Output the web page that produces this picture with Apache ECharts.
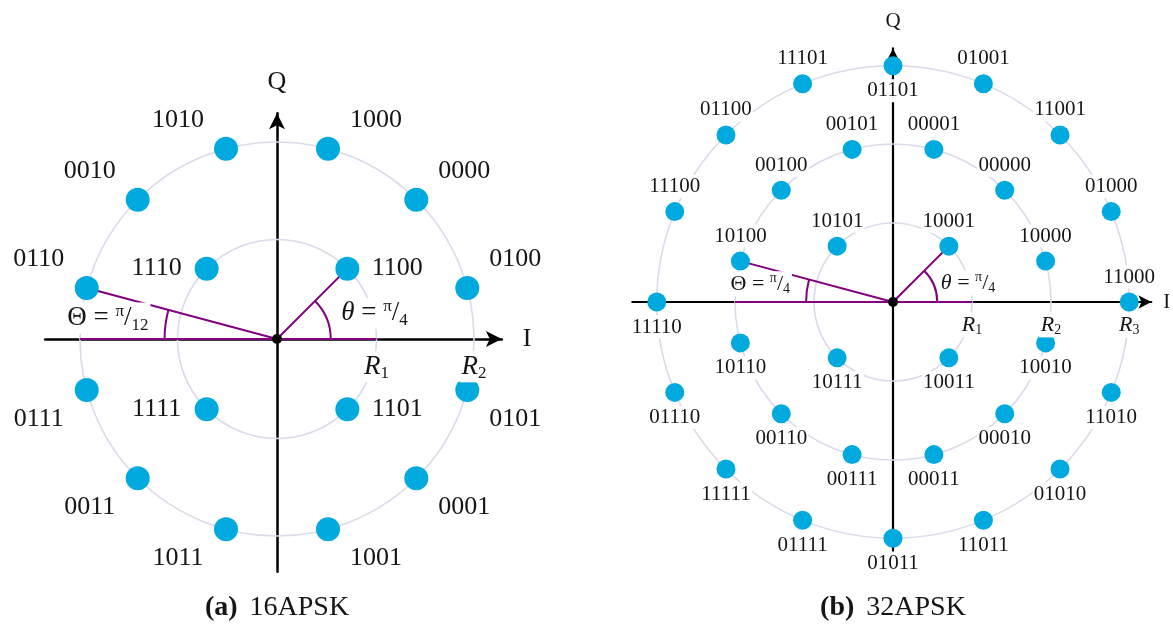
<!DOCTYPE html>
<html><head><meta charset="utf-8">
<script src="https://cdn.jsdelivr.net/npm/echarts@6/dist/echarts.min.js"></script>
<style>html,body{margin:0;background:#fff}#c{width:1173px;height:626px}</style>
</head><body><div id="c"></div>
<script>
// ---------- data ----------
const apsk16Radii = [1, 1.98];
const apsk16InnerAngles = [45, 135, 225, 315];
const apsk16InnerLabels = ['1100', '1110', '1111', '1101'];
const apsk16OuterAngles = [15, 45, 75, 105, 135, 165, 195, 225, 255, 285, 315, 345];
const apsk16OuterLabels = ['0100', '0000', '1000', '1010', '0010', '0110', '0111', '0011', '1011', '1001', '0001', '0101'];

const apsk32Radii = [1, 2, 2.99];
const apsk32InnerAngles = [45, 135, 225, 315];
const apsk32InnerLabels = ['10001', '10101', '10111', '10011'];
const apsk32MiddleAngles = [15, 45, 75, 105, 135, 165, 195, 225, 255, 285, 315, 345];
const apsk32MiddleLabels = ['10000', '00000', '00001', '00101', '00100', '10100', '10110', '00110', '00111', '00011', '00010', '10010'];
const apsk32OuterAngles = [0, 22.5, 45, 67.5, 90, 112.5, 135, 157.5, 180, 202.5, 225, 247.5, 270, 292.5, 315, 337.5];
const apsk32OuterLabels = ['11000', '01000', '11001', '01001', '01101', '11101', '01100', '11100', '11110', '01110', '11111', '01111', '01011', '11011', '01010', '11010'];

const captions = ['16APSK', '32APSK'];
const captionTags = ['(a)', '(b)'];
const angleTexts16 = ['θ', 'π', '4', 'Θ', 'π', '12'];
const angleTexts32 = ['θ', 'π', '4', 'Θ', 'π', '4'];

// ---------- styling / layout ----------
const F = 'Liberation Serif';
const INK = '#161616';
const DOT = '#00a9de';
const RING = '#dadaea';
const PURP = '#800080';
const layouts = [
  {cx: 277, cy: 339, s: 99.5, xmin: -2.33, xmax: 2.26, ymin: -2.34, ymax: 2.27, fs: 26, mfs: 27, dot: 24, aw: 2.5, arrow: [12, 16], xGap: 21, yGap: 18, dist: 0},
  {cx: 893, cy: 302, s: 79, xmin: -3.30, xmax: 3.27, ymin: -3.15, ymax: 3.21, fs: 21, mfs: 22, dot: 19, aw: 2.2, arrow: [10, 13], xGap: 12, yGap: 16, dist: 4}
];
const rad = d => d * Math.PI / 180;
const pt = (r, a) => [r * Math.cos(rad(a)), r * Math.sin(rad(a))];

const grids = [], xAxes = [], yAxes = [], series = [];
layouts.forEach((L, gi) => {
  grids.push({left: L.cx + L.xmin * L.s, width: (L.xmax - L.xmin) * L.s,
    top: L.cy - L.ymax * L.s, height: (L.ymax - L.ymin) * L.s,
    containLabel: false, outerBoundsMode: 'none', show: false});
  const axCommon = {
    type: 'value', gridIndex: gi,
    axisLine: {onZero: true, symbol: ['none', 'arrow'], symbolSize: L.arrow,
      lineStyle: {color: '#000', width: L.aw}},
    axisTick: {show: false}, axisLabel: {show: false}, splitLine: {show: false},
    nameTextStyle: {fontFamily: F, fontSize: L.fs, color: INK}
  };
  xAxes.push(Object.assign({}, axCommon, {min: L.xmin, max: L.xmax, name: 'I', nameGap: L.xGap}));
  yAxes.push(Object.assign({}, axCommon, {min: L.ymin, max: L.ymax, name: 'Q', nameGap: L.yGap}));
});

function ringSeries(gi, radii) {
  return {type: 'custom', xAxisIndex: gi, yAxisIndex: gi, silent: true, z: 3,
    data: radii.map(r => [r, 0]), encode: {x: 0, y: 1},
    renderItem: (p, api) => {
      const c = api.coord([0, 0]), e = api.coord([api.value(0), 0]);
      return {type: 'circle', shape: {cx: c[0], cy: c[1], r: e[0] - c[0]},
        style: {fill: 'none', stroke: RING, lineWidth: 1.6}};
    }};
}
function arcSeries(gi, arcs) {
  return {type: 'custom', xAxisIndex: gi, yAxisIndex: gi, silent: true, z: 4,
    data: arcs, encode: {x: 0, y: 1},
    renderItem: (p, api) => {
      const c = api.coord([0, 0]), e = api.coord([api.value(0), 0]);
      return {type: 'arc', shape: {cx: c[0], cy: c[1], r: e[0] - c[0],
        startAngle: -rad(api.value(2)), endAngle: -rad(api.value(1)), clockwise: true},
        style: {fill: 'none', stroke: PURP, lineWidth: 2}};
    }};
}
function lineSeries(gi, pts) {
  return {type: 'line', xAxisIndex: gi, yAxisIndex: gi, data: pts, showSymbol: false,
    silent: true, z: 4, lineStyle: {color: PURP, width: 2, opacity: 1}, animation: false};
}
function mathRich(fs) {
  const base = {fontFamily: F, color: INK, textBorderWidth: 0, textShadowBlur: 0};
  const small = Math.round(fs * 0.64);
  return {
    it: Object.assign({}, base, {fontStyle: 'italic', fontSize: fs}),
    n: Object.assign({}, base, {fontSize: fs}),
    sup: Object.assign({}, base, {fontSize: small, verticalAlign: 'top'}),
    sub: Object.assign({}, base, {fontSize: small, verticalAlign: 'bottom'})
  };
}
function textSeries(gi, items, fs) {
  return {type: 'scatter', xAxisIndex: gi, yAxisIndex: gi, symbolSize: 0, z: 6, silent: true,
    itemStyle: {color: '#fff', opacity: 1},
    data: items.map(it => ({value: it.v, label: {formatter: it.t}})),
    label: {show: true, position: 'inside', backgroundColor: '#fff', padding: [0, 2],
      color: INK, opacity: 1, textBorderWidth: 0, fontFamily: F, fontSize: fs,
      rich: mathRich(fs), lineHeight: Math.round(fs * 1.15)}};
}
function dotSeries(gi, pts, L, labelFn) {
  return {type: 'scatter', xAxisIndex: gi, yAxisIndex: gi, z: 5, silent: true,
    symbolSize: L.dot, itemStyle: {color: DOT, opacity: 1},
    data: pts.map(p => ({value: p.v, name: p.n, label: labelFn(p)})),
    label: {show: true, formatter: '{b}', fontFamily: F, fontSize: L.fs, color: INK,
      textBorderWidth: 0, backgroundColor: '#fff', padding: [1, 1]}};
}
function originSeries(gi) {
  return {type: 'scatter', xAxisIndex: gi, yAxisIndex: gi, z: 7, silent: true,
    symbolSize: 10, itemStyle: {color: '#000', opacity: 1}, data: [[0, 0]]};
}

// ---- 16APSK ----
{
  const L = layouts[0];
  const pts = [];
  apsk16InnerAngles.forEach((a, i) => pts.push({v: pt(apsk16Radii[0], a), n: apsk16InnerLabels[i], ring: 0}));
  apsk16OuterAngles.forEach((a, i) => pts.push({v: pt(apsk16Radii[1], a), n: apsk16OuterLabels[i], ring: 1}));
  series.push(ringSeries(0, apsk16Radii));
  series.push(lineSeries(0, [[-apsk16Radii[1], 0], [apsk16Radii[0], 0]]));
  series.push(lineSeries(0, [pt(apsk16Radii[1], apsk16OuterAngles[5]), [0, 0], pt(apsk16Radii[0], apsk16InnerAngles[0])]));
  series.push(arcSeries(0, [[0.54, 0, apsk16InnerAngles[0]], [1.13, apsk16OuterAngles[5], 180]]));
  series.push(dotSeries(0, pts, L, p => {
    const sx = p.v[0] >= 0 ? 1 : -1, sy = p.v[1] >= 0 ? 1 : -1;
    return p.ring === 1 ? {position: 'inside', offset: [sx * 48, -sy * 29]}
                        : {position: 'inside', offset: [sx * 50, 0]};
  }));
  const t = angleTexts16;
  series.push(textSeries(0, [
    {v: [0.98, 0.26], t: `{it|${t[0]}}{n| = }{sup|${t[1]}}{n|/}{sub|${t[2]}}`},
    {v: [-1.70, 0.21], t: `{n|${t[3]} = }{sup|${t[4]}}{n|/}{sub|${t[5]}}`},
    {v: [apsk16Radii[0], -0.28], t: '{it|R}{sub|1}'},
    {v: [apsk16Radii[1], -0.28], t: '{it|R}{sub|2}'}
  ], L.mfs));
  series.push(originSeries(0));
}
// ---- 32APSK ----
{
  const L = layouts[1];
  const pts = [];
  apsk32InnerAngles.forEach((a, i) => pts.push({v: pt(apsk32Radii[0], a), n: apsk32InnerLabels[i], a}));
  apsk32MiddleAngles.forEach((a, i) => pts.push({v: pt(apsk32Radii[1], a), n: apsk32MiddleLabels[i], a}));
  apsk32OuterAngles.forEach((a, i) => pts.push({v: pt(apsk32Radii[2], a), n: apsk32OuterLabels[i], a}));
  series.push(ringSeries(1, apsk32Radii));
  series.push(lineSeries(1, [[-apsk32Radii[1], 0], [apsk32Radii[0], 0]]));
  series.push(lineSeries(1, [pt(apsk32Radii[1], apsk32MiddleAngles[5]), [0, 0], pt(apsk32Radii[0], apsk32InnerAngles[0])]));
  series.push(arcSeries(1, [[0.56, 0, apsk32InnerAngles[0]], [1.1, apsk32MiddleAngles[5], 180]]));
  series.push(dotSeries(1, pts, L, p => {
    const above = p.a === 0 || (p.a < 180 && p.a !== 90);
    return {position: above ? 'top' : 'bottom', distance: L.dist};
  }));
  const t = angleTexts32;
  series.push(textSeries(1, [
    {v: [0.95, 0.24], t: `{it|${t[0]}}{n| = }{sup|${t[1]}}{n|/}{sub|${t[2]}}`},
    {v: [-1.68, 0.23], t: `{n|${t[3]} = }{sup|${t[4]}}{n|/}{sub|${t[5]}}`},
    {v: [apsk32Radii[0], -0.29], t: '{it|R}{sub|1}'},
    {v: [apsk32Radii[1], -0.29], t: '{it|R}{sub|2}'},
    {v: [apsk32Radii[2], -0.29], t: '{it|R}{sub|3}'}
  ], L.mfs));
  series.push(originSeries(1));
}

const chart = echarts.init(document.getElementById('c'));
chart.setOption({
  animation: false,
  backgroundColor: '#fff',
  grid: grids, xAxis: xAxes, yAxis: yAxes, series,
  graphic: layouts.map((L, i) => ({
    type: 'text', x: L.cx, y: 608,
    style: {text: `{b|${captionTags[i]}}{n|${captions[i]}}`, align: 'center', verticalAlign: 'middle',
      rich: {b: {fontFamily: F, fontWeight: 'bold', fontSize: 28, fill: INK},
             n: {fontFamily: F, fontSize: 28, fill: INK, padding: [0, 0, 0, 12]}}}
  }))
});
</script>
</body></html>
